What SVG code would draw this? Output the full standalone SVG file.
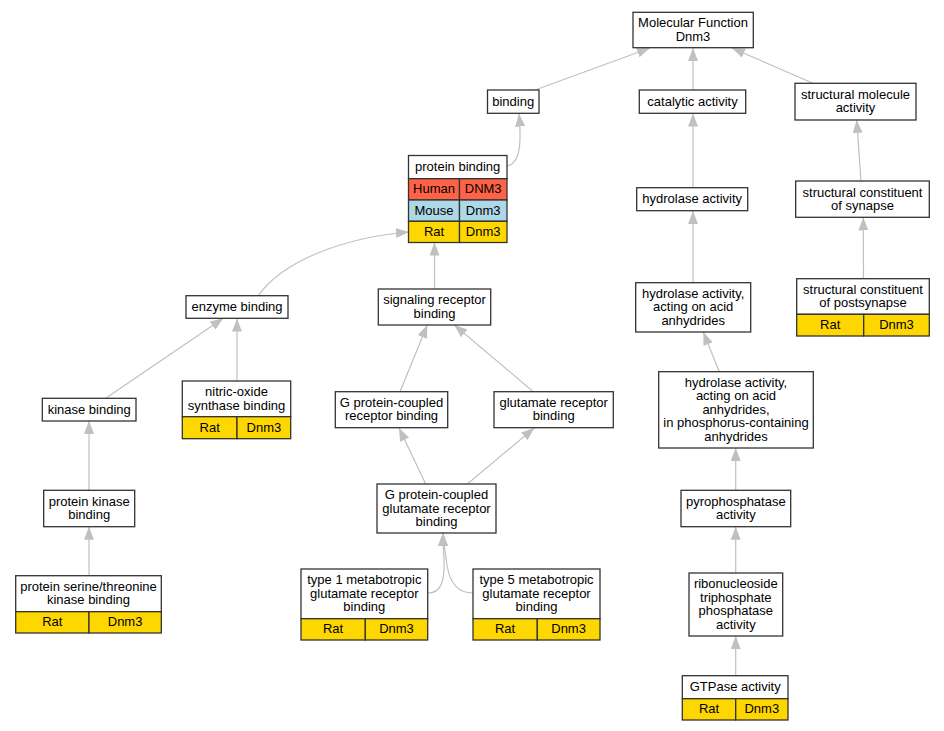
<svg xmlns="http://www.w3.org/2000/svg" width="944" height="731" viewBox="0 0 944 731">
<style>
text{font-family:"Liberation Sans",Arial,sans-serif;font-size:13px;fill:#000;text-anchor:middle}
.b{fill:#fff;stroke:#333;stroke-width:1.3}
.h{fill:#ff6347;stroke:#333;stroke-width:1.3}
.m{fill:#add8e6;stroke:#333;stroke-width:1.3}
.r{fill:#ffd700;stroke:#333;stroke-width:1.3}
.e{fill:none;stroke:#c0c0c0;stroke-width:1.2;marker-end:url(#a)}
</style>
<defs>
<marker id="a" markerUnits="userSpaceOnUse" markerWidth="14" markerHeight="11" refX="13" refY="5" orient="auto">
<path d="M0,0 L13,5 L0,10 z" fill="#c0c0c0"/>
</marker>
</defs>
<rect width="944" height="731" fill="#fff"/>
<g id="edges">
<path class="e" d="M535,90 L650,48"/>
<path class="e" d="M693,90 L693,48"/>
<path class="e" d="M813,83.3 L732,48"/>
<path class="e" d="M693,187.7 L693,113.5"/>
<path class="e" d="M861,181 L856.7,120"/>
<path class="e" d="M863.5,278.7 L863.3,217.5"/>
<path class="e" d="M507,166 C519,164 522,148 519,113.5"/>
<path class="e" d="M258,296 C282,262 340,238 409,232"/>
<path class="e" d="M434.5,289 L434.5,242.5"/>
<path class="e" d="M693,282.7 L693,211"/>
<path class="e" d="M105.7,398.3 L223.3,318.3"/>
<path class="e" d="M237,381 L237,318.5"/>
<path class="e" d="M400,391.7 L427.3,325"/>
<path class="e" d="M533.3,391.7 L454.3,325"/>
<path class="e" d="M719.3,371.7 L703.3,332"/>
<path class="e" d="M89,490.3 L89,421"/>
<path class="e" d="M425.7,484 L399,428"/>
<path class="e" d="M467.3,484 L534.3,428"/>
<path class="e" d="M735.7,490.3 L735.7,448"/>
<path class="e" d="M89,575.7 L89,526.7"/>
<path class="e" d="M428,593 C440,593 445,583 444,560 C443.5,550 443,540 443,533"/>
<path class="e" d="M473,593 C460,593 450,585 447,565 C445,550 443,540 443,533"/>
<path class="e" d="M735.7,573 L735.7,526.7"/>
<path class="e" d="M735.7,675.7 L735.7,636"/>
</g>
<g id="mf"><rect class="b" x="633" y="12.3" width="120.3" height="35.4"/><text x="693" y="27.3">Molecular Function</text><text x="693" y="40.7">Dnm3</text></g>
<g id="binding"><rect class="b" x="487.5" y="90" width="51.5" height="23.3"/><text x="513.2" y="105.7">binding</text></g>
<g id="catalytic"><rect class="b" x="639.3" y="90" width="106.4" height="23.3"/><text x="692.5" y="105.7">catalytic activity</text></g>
<g id="structmol"><rect class="b" x="795" y="83.3" width="121" height="36.7"/><text x="855.5" y="99">structural molecule</text><text x="855.5" y="112.4">activity</text></g>
<g id="proteinbinding"><rect class="b" x="408.5" y="155.5" width="98.5" height="23.2"/><text x="457.7" y="171.1">protein binding</text>
<rect class="h" x="408.5" y="178.7" width="51" height="21.3"/><rect class="h" x="459.5" y="178.7" width="47.5" height="21.3"/>
<rect class="m" x="408.5" y="200" width="51" height="21.3"/><rect class="m" x="459.5" y="200" width="47.5" height="21.3"/>
<rect class="r" x="408.5" y="221.3" width="51" height="21.2"/><rect class="r" x="459.5" y="221.3" width="47.5" height="21.2"/>
<text x="434" y="193.3">Human</text><text x="483.2" y="193.3">DNM3</text>
<text x="434" y="214.6">Mouse</text><text x="483.2" y="214.6">Dnm3</text>
<text x="434" y="235.9">Rat</text><text x="483.2" y="235.9">Dnm3</text></g>
<g id="hydrolase"><rect class="b" x="636.7" y="187.7" width="111" height="23"/><text x="692.2" y="203.2">hydrolase activity</text></g>
<g id="synapse"><rect class="b" x="795.7" y="181" width="133.6" height="36.3"/><text x="862.5" y="196.5">structural constituent</text><text x="862.5" y="209.9">of synapse</text></g>
<g id="enzyme"><rect class="b" x="186" y="295.7" width="102" height="22.6"/><text x="237" y="311">enzyme binding</text></g>
<g id="signaling"><rect class="b" x="378.3" y="289" width="112.4" height="36"/><text x="434.5" y="304.3">signaling receptor</text><text x="434.5" y="317.7">binding</text></g>
<g id="acidanh"><rect class="b" x="635.7" y="282.7" width="115" height="49.3"/><text x="693.2" y="298">hydrolase activity,</text><text x="693.2" y="311.3">acting on acid</text><text x="693.2" y="324.7">anhydrides</text></g>
<g id="postsynapse"><rect class="b" x="796.7" y="278.7" width="132.6" height="35.6"/><text x="863" y="293.8">structural constituent</text><text x="863" y="307.2">of postsynapse</text>
<rect class="r" x="796.7" y="314.3" width="67" height="21.7"/><rect class="r" x="863.7" y="314.3" width="65.6" height="21.7"/>
<text x="830.2" y="329.2">Rat</text><text x="896.5" y="329.2">Dnm3</text></g>
<g id="kinase"><rect class="b" x="42.3" y="398.3" width="93.7" height="22.7"/><text x="89.2" y="413.7">kinase binding</text></g>
<g id="nitric"><rect class="b" x="182.3" y="381" width="108.4" height="35.7"/><text x="236.5" y="396.2">nitric-oxide</text><text x="236.5" y="409.6">synthase binding</text>
<rect class="r" x="182.3" y="416.7" width="54.7" height="22"/><rect class="r" x="237" y="416.7" width="53.7" height="22"/>
<text x="209.7" y="431.7">Rat</text><text x="263.9" y="431.7">Dnm3</text></g>
<g id="gpcr"><rect class="b" x="335.3" y="391.7" width="112.4" height="36"/><text x="391.5" y="407">G protein-coupled</text><text x="391.5" y="420.4">receptor binding</text></g>
<g id="glutamate"><rect class="b" x="494" y="391.7" width="119.3" height="36"/><text x="553.7" y="407">glutamate receptor</text><text x="553.7" y="420.4">binding</text></g>
<g id="phosphorus"><rect class="b" x="658.7" y="371.7" width="154.6" height="76.3"/><text x="736" y="387">hydrolase activity,</text><text x="736" y="400.4">acting on acid</text><text x="736" y="413.8">anhydrides,</text><text x="736" y="427.2">in phosphorus-containing</text><text x="736" y="440.6">anhydrides</text></g>
<g id="proteinkinase"><rect class="b" x="43.7" y="490.3" width="91" height="36.4"/><text x="89.2" y="505.8">protein kinase</text><text x="89.2" y="519.2">binding</text></g>
<g id="gpcglut"><rect class="b" x="377" y="484" width="119" height="49"/><text x="436.5" y="499.1">G protein-coupled</text><text x="436.5" y="512.5">glutamate receptor</text><text x="436.5" y="525.9">binding</text></g>
<g id="pyro"><rect class="b" x="681" y="490.3" width="109.7" height="36.4"/><text x="735.8" y="505.8">pyrophosphatase</text><text x="735.8" y="519.2">activity</text></g>
<g id="serthr"><rect class="b" x="15.7" y="575.7" width="145.6" height="36"/><text x="88.5" y="591">protein serine/threonine</text><text x="88.5" y="604.4">kinase binding</text>
<rect class="r" x="15.7" y="611.7" width="73.3" height="21.3"/><rect class="r" x="89" y="611.7" width="72.3" height="21.3"/>
<text x="52.3" y="626.3">Rat</text><text x="125.1" y="626.3">Dnm3</text></g>
<g id="type1"><rect class="b" x="301" y="569" width="126.7" height="49.7"/><text x="364.3" y="584.4">type 1 metabotropic</text><text x="364.3" y="597.8">glutamate receptor</text><text x="364.3" y="611.2">binding</text>
<rect class="r" x="301" y="618.7" width="64.3" height="21.3"/><rect class="r" x="365.3" y="618.7" width="62.4" height="21.3"/>
<text x="333.1" y="633.3">Rat</text><text x="396.5" y="633.3">Dnm3</text></g>
<g id="type5"><rect class="b" x="473" y="569" width="127" height="49.7"/><text x="536.5" y="584.4">type 5 metabotropic</text><text x="536.5" y="597.8">glutamate receptor</text><text x="536.5" y="611.2">binding</text>
<rect class="r" x="473" y="618.7" width="64.3" height="21.3"/><rect class="r" x="537.3" y="618.7" width="62.7" height="21.3"/>
<text x="505.1" y="633.3">Rat</text><text x="568.6" y="633.3">Dnm3</text></g>
<g id="ribo"><rect class="b" x="689" y="573" width="93.7" height="63"/><text x="735.8" y="588.4">ribonucleoside</text><text x="735.8" y="601.8">triphosphate</text><text x="735.8" y="615.2">phosphatase</text><text x="735.8" y="628.6">activity</text></g>
<g id="gtpase"><rect class="b" x="682.3" y="675.7" width="105.7" height="23"/><text x="735.2" y="691.2">GTPase activity</text>
<rect class="r" x="682.3" y="698.7" width="53.4" height="21.3"/><rect class="r" x="735.7" y="698.7" width="52.3" height="21.3"/>
<text x="709" y="713.3">Rat</text><text x="761.8" y="713.3">Dnm3</text></g>
</svg>
